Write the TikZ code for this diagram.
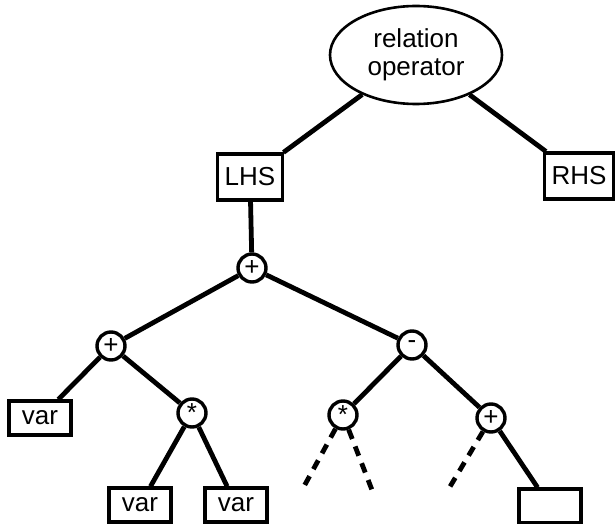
\documentclass[tikz,border=0pt]{standalone}
\usepackage{fontspec}
\setmainfont{Liberation Sans}
\usepackage{tikz}
\usetikzlibrary{shapes.geometric}
\tikzset{
  style root/.style={
    ellipse, draw, line width=1.3pt,
    minimum width=86pt, minimum height=49pt, inner sep=0pt, align=center,
  },
  style box/.style={
    rectangle, draw, line width=1.6pt,
    minimum width=31pt, minimum height=17pt, inner sep=3.5pt,
  },
  style side/.style={
    style box, minimum height=23pt,
  },
  style op/.style={
    circle, draw, line width=1.7pt, fill=white,
    minimum size=14pt, inner sep=0pt,
  }
}

\begin{document}
\begin{tikzpicture}[x=0.5pt,y=-0.5pt,font=\fontsize{13}{14}\selectfont]
                    \useasboundingbox (0,0) rectangle (615,524);
                    \begin{scope}
                        \node[style root] (R) at (416, 55) {relation\\operator};
                        \node[style side] (L) at (250,177) {LHS};
                        \node[style side] (H) at (579,176) {RHS};
                        \node[style op]   (P) at (252,268) {+};
                        \node[style op]   (A) at (111,346) {+};
                        \node[style op]   (M) at (412,345) {-};
                        \node[style box]  (V) at ( 40,418) {var};
                        \node[style op]   (S) at (192,413) {*};
                        \node[style op]   (T) at (343,415) {*};
                        \node[style op]   (Q) at (491,418) {+};
                        \node[style box]  (W) at (140,505) {var};
                        \node[style box]  (X) at (236,505) {var};
                        \node[style box]  (E) at (550,506) {};
                        \coordinate (T1) at (302,490);
                        \coordinate (T2) at (372,490);
                        \coordinate (Q1) at (448,490);
                    \end{scope}
                    \begin{scope}[every edge/.style={draw,line width=2.4pt}]
                        \path (R) edge (L);
                        \path (R) edge (H);

                        \path (L) edge (P);

                        \path (P) edge (A);
                        \path (P) edge (M);

                        \path (A) edge (V);
                        \path (A) edge (S);

                        \path (S) edge (W);
                        \path (S) edge (X);

                        \path (M) edge (T);
                        \path (M) edge (Q);

                        \path (Q) edge (E);
                    \end{scope}
                    \begin{scope}[every edge/.style={draw,line width=2.4pt,dash pattern=on 5pt off 4pt}]
                        \path (T) edge (T1);
                        \path (T) edge (T2);
                        \path (Q) edge (Q1);
                    \end{scope}
                \end{tikzpicture}
\end{document}
